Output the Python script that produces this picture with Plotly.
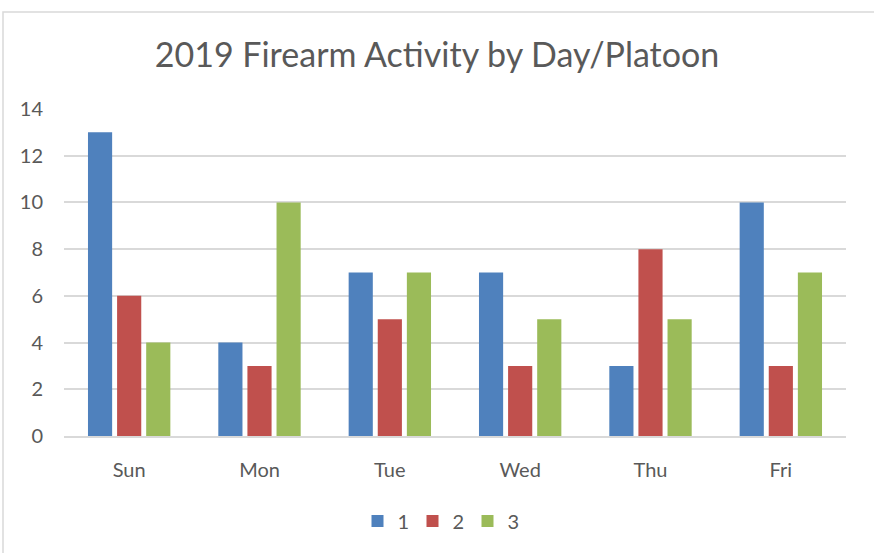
import plotly.graph_objects as go

# Firearm activity counts per weekday, split by platoon
days = ["Sun", "Mon", "Tue", "Wed", "Thu", "Fri"]
platoon_1 = [13, 4, 7, 7, 3, 10]
platoon_2 = [6, 3, 5, 3, 8, 3]
platoon_3 = [4, 10, 7, 5, 5, 7]
y_ticks = [0, 2, 4, 6, 8, 10, 12, 14]

W, H = 874, 553
ML, MR, MT, MB = 64, 28, 109, 117
TEXT = "#595959"
GRID = "#d9d9d9"
FONT = "Lato"

fig = go.Figure()
for name, vals, color in [
    ("1", platoon_1, "#4f81bd"),
    ("2", platoon_2, "#c0504d"),
    ("3", platoon_3, "#9bbb59"),
]:
    fig.add_trace(go.Bar(x=days, y=vals, name=name, legendwidth=10,
                         marker=dict(color=color, line=dict(width=0))))

pw = W - ML - MR
ph = H - MT - MB
# outer chart frame (left and top edges visible, clipped on the other sides)
fig.add_shape(
    type="rect", xref="paper", yref="paper",
    x0=(3 - ML) / pw, x1=(W + 10 - ML) / pw,
    y0=(H - MT - (H + 10)) / ph, y1=(H - MB - 12) / ph,
    line=dict(color=GRID, width=1.5), fillcolor="rgba(0,0,0,0)", layer="below",
)

fig.update_layout(
    width=W, height=H,
    margin=dict(l=ML, r=MR, t=MT, b=MB),
    paper_bgcolor="white", plot_bgcolor="white",
    barmode="group", bargap=0.33, bargroupgap=0.17,
    font=dict(family=FONT, color=TEXT, size=20),
    title=dict(text="2019 Firearm Activity by Day/Platoon", x=0.5, xanchor="center",
               y=1 - 55 / H, yanchor="middle", font=dict(size=34, color=TEXT, family=FONT)),
    xaxis=dict(showgrid=False, showline=True, linecolor=GRID, linewidth=2,
               ticks="", ticklabelstandoff=15, tickfont=dict(size=20, color=TEXT)),
    yaxis=dict(range=[0, 14], tickvals=y_ticks, showgrid=True, gridcolor=GRID, gridwidth=1.5,
               zeroline=False, showline=False, ticks="", ticklabelstandoff=20,
               tickfont=dict(size=20, color=TEXT)),
    legend=dict(orientation="h", x=0.5 - 15 / pw, xanchor="center", y=(436 - 521) / ph,
                yanchor="middle", font=dict(size=20, color=TEXT), itemwidth=30),
    showlegend=True,
)

fig.write_html("out.html")
